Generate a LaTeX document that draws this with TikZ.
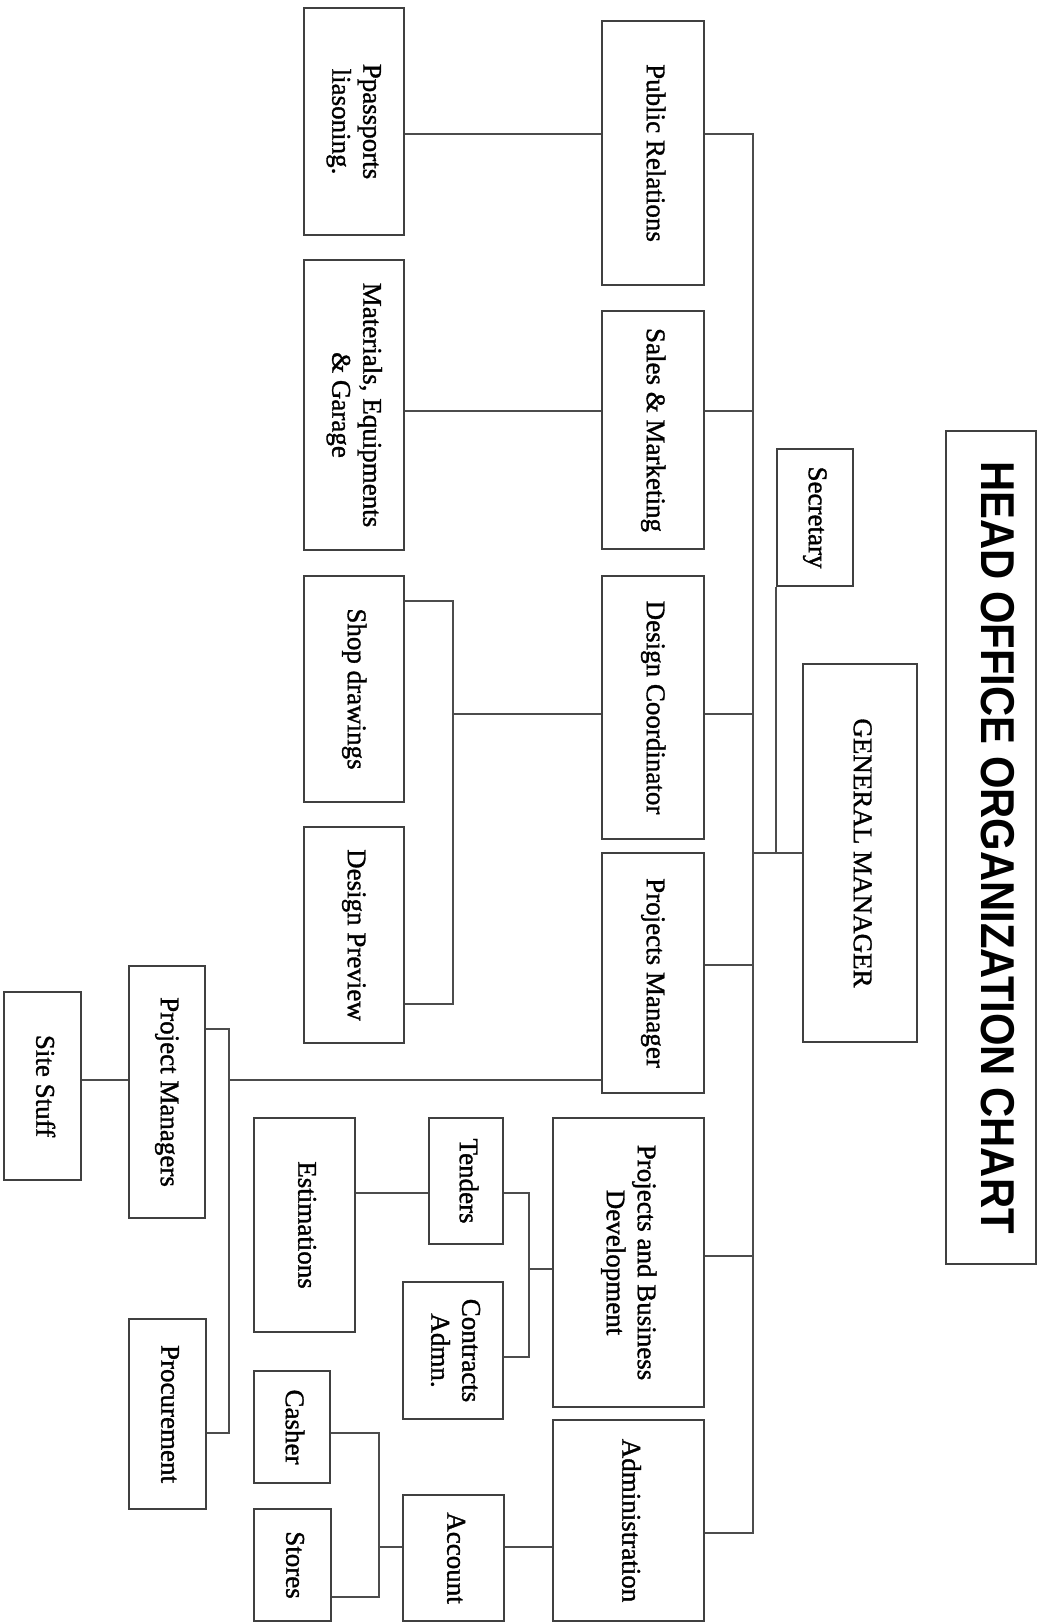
\documentclass[tikz,border=0pt]{standalone}
\usepackage{fontspec}
\setmainfont{Liberation Serif}
\newfontfamily\unitfont{Liberation Serif}[FakeBold=1.2]
\newfontfamily\headfont{Liberation Sans}
\usepackage{graphicx}
\usepackage{tikz}

\newcommand{\vtext}[1]{\rotatebox{-90}{\begin{tabular}{@{}c@{}}#1\end{tabular}}}

\begin{document}
\begin{tikzpicture}[x=1pt,y=-1pt,
                    link/.style={draw=black!70,line width=1.6pt},
                    unit node/.style={rectangle,draw=black!75,line width=2pt,fill=white,inner sep=0pt,
                                      font=\unitfont\fontsize{27}{31}\selectfont},
                    title node/.style={rectangle,draw=black!75,line width=2pt,fill=white,inner sep=0pt,
                                       font=\headfont\bfseries\fontsize{47.5}{50}\selectfont}]

  \useasboundingbox (0,0) rectangle (1039,1623);

  \node[title node,minimum width=90,minimum height=833] (1) at (991,847.5) {\vtext{\scalebox{0.88}[1]{HEAD OFFICE ORGANIZATION CHART}}};
  \node[unit node,minimum width=114,minimum height=378] (2) at (860,853) {\vtext{GENERAL MANAGER}};
  \node[unit node,minimum width=76,minimum height=137] (3) at (815,517.5) {\vtext{Secretary}};
  \node[unit node,minimum width=102,minimum height=264] (4) at (653,153) {\vtext{Public Relations}};
  \node[unit node,minimum width=102,minimum height=238] (5) at (653,430) {\vtext{Sales \& Marketing}};
  \node[unit node,minimum width=102,minimum height=263] (6) at (653,707.5) {\vtext{Design Coordinator}};
  \node[unit node,minimum width=102,minimum height=240] (7) at (653,973) {\vtext{Projects Manager}};
  \node[unit node,minimum width=151,minimum height=289] (8) at (628.5,1262.5) {\vtext{Projects and Business\\Development}};
  \node[unit node,minimum width=151,minimum height=201] (9) at (628.5,1520.5) {\vtext{Administration}};
  \node[unit node,minimum width=100,minimum height=227] (10) at (354,121.5) {\vtext{Ppassports\\liasoning.}};
  \node[unit node,minimum width=100,minimum height=290] (11) at (354,405) {\vtext{Materials, Equipments\\\& Garage}};
  \node[unit node,minimum width=100,minimum height=226] (12) at (354,689) {\vtext{Shop drawings}};
  \node[unit node,minimum width=100,minimum height=216] (13) at (354,935) {\vtext{Design Preview}};
  \node[unit node,minimum width=76,minimum height=252] (14) at (167,1092) {\vtext{Project Managers}};
  \node[unit node,minimum width=77,minimum height=188] (15) at (42.5,1086) {\vtext{Site Stuff}};
  \node[unit node,minimum width=77,minimum height=190] (16) at (167.5,1414) {\vtext{Procurement}};
  \node[unit node,minimum width=74,minimum height=126] (17) at (466,1181) {\vtext{Tenders}};
  \node[unit node,minimum width=100,minimum height=137] (18) at (453,1350.5) {\vtext{Contracts\\Admn.}};
  \node[unit node,minimum width=101,minimum height=214] (19) at (304.5,1225) {\vtext{Estimations}};
  \node[unit node,minimum width=101,minimum height=126] (20) at (453.5,1558) {\vtext{Account}};
  \node[unit node,minimum width=76,minimum height=112] (21) at (292,1427) {\vtext{Casher}};
  \node[unit node,minimum width=77,minimum height=112] (22) at (292.5,1565) {\vtext{Stores}};

  % main line
  \coordinate (t1) at (753,134);
  \coordinate (t2) at (753,411);
  \coordinate (t3) at (753,714);
  \coordinate (t4) at (753,853);
  \coordinate (t5) at (753,965);
  \coordinate (t6) at (753,1256);
  \coordinate (t7) at (753,1533);

  \draw[link] (4.east |- t1) -- (t1) -- (t7) -- (9.east |- t7);
  \draw[link] (5.east |- t2) -- (t2);
  \draw[link] (6.east |- t3) -- (t3);
  \draw[link] (t4) -- (2.west |- t4);
  \draw[link] (3.south west) -- (3.south west |- t4);
  \draw[link] (7.east |- t5) -- (t5);
  \draw[link] (8.east |- t6) -- (t6);
  \draw[link] (10.east |- t1) -- (4.west |- t1);
  \draw[link] (11.east |- t2) -- (5.west |- t2);

  \coordinate (b1) at (453,601);
  \coordinate (b2) at (453,1004);
  \draw[link] (12.east |- b1) -- (b1) -- (b2) -- (13.east |- b2);
  \draw[link] (b1 |- t3) -- (6.west |- t3);

  \coordinate (b3) at (229,1029);
  \coordinate (b4) at (229,1433);
  \coordinate (b5) at (229,1080);
  \draw[link] (14.east |- b3) -- (b3) -- (b4) -- (16.east |- b4);
  \draw[link] (b5) -- (7.west |- b5);
  \draw[link] (15.east |- b5) -- (14.west |- b5);

  \coordinate (b6) at (529,1193);
  \coordinate (b7) at (529,1357);
  \coordinate (b8) at (529,1269);
  \draw[link] (17.east |- b6) -- (b6) -- (b7) -- (18.east |- b7);
  \draw[link] (b8) -- (8.west |- b8);
  \draw[link] (19.east |- b6) -- (17.west |- b6);

  \coordinate (b9) at (379,1433);
  \coordinate (b10) at (379,1597);
  \coordinate (b11) at (379,1547);
  \draw[link] (21.east |- b9) -- (b9) -- (b10) -- (22.east |- b10);
  \draw[link] (b11) -- (20.west |- b11);
  \draw[link] (20.east |- b11) -- (9.west |- b11);
\end{tikzpicture}
\end{document}
